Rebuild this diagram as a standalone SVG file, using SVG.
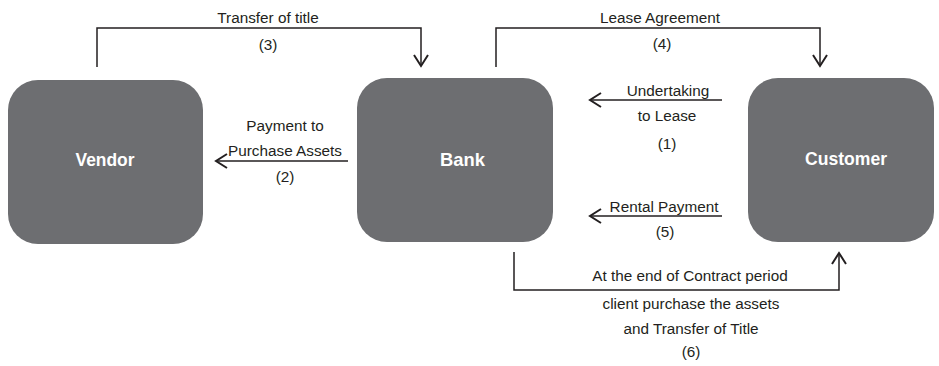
<svg xmlns="http://www.w3.org/2000/svg" width="939" height="366" viewBox="0 0 939 366">
<style>
.box{fill:#6d6e71;}
.lbl{font-family:"Liberation Sans",Arial,sans-serif;font-size:19px;font-weight:bold;fill:#ffffff;text-anchor:middle;}
.t{font-family:"Liberation Sans",Arial,sans-serif;font-size:15.3px;fill:#231f20;text-anchor:middle;}
.c{fill:none;stroke:#231f20;stroke-width:1.5;}
</style>
<defs>
<marker id="arr" markerUnits="userSpaceOnUse" markerWidth="16" markerHeight="18" refX="12" refY="8" orient="auto">
<path d="M1,1 L12,8 L1,15" fill="none" stroke="#231f20" stroke-width="2"/>
</marker>
</defs>
<rect width="939" height="366" fill="#ffffff"/>
<g id="vendor">
<rect class="box" x="8" y="80" width="195" height="164" rx="30" ry="30"/>
<text class="lbl" x="105" y="166" textLength="59" lengthAdjust="spacingAndGlyphs">Vendor</text>
</g>
<g id="bank">
<rect class="box" x="357" y="78" width="196" height="164" rx="30" ry="30"/>
<text class="lbl" x="440" y="166" textLength="45" lengthAdjust="spacingAndGlyphs" style="text-anchor:start">Bank</text>
</g>
<g id="customer">
<rect class="box" x="748" y="78" width="186" height="164" rx="30" ry="30"/>
<text class="lbl" x="846" y="165" textLength="82" lengthAdjust="spacingAndGlyphs">Customer</text>
</g>
<g id="connectors">
<path class="c" d="M97,67 V28 H421 V66" marker-end="url(#arr)"/>
<path class="c" d="M496,67 V28 H820 V66" marker-end="url(#arr)"/>
<path class="c" d="M348,161 H216" marker-end="url(#arr)"/>
<path class="c" d="M722,100 H590" marker-end="url(#arr)"/>
<path class="c" d="M722,216 H590" marker-end="url(#arr)"/>
<path class="c" d="M514,252 V290 H839 V253" marker-end="url(#arr)"/>
</g>
<g id="labels">
<text class="t" x="268" y="23">Transfer of title</text>
<text class="t" x="268" y="50">(3)</text>
<text class="t" x="660" y="23">Lease Agreement</text>
<text class="t" x="662" y="49">(4)</text>
<text class="t" x="285" y="131">Payment to</text>
<text class="t" x="285" y="156">Purchase Assets</text>
<text class="t" x="285" y="182">(2)</text>
<text class="t" x="668" y="96">Undertaking</text>
<text class="t" x="667" y="121">to Lease</text>
<text class="t" x="667" y="149">(1)</text>
<text class="t" x="664" y="212">Rental Payment</text>
<text class="t" x="665" y="237">(5)</text>
<text class="t" x="690" y="281">At the end of Contract period</text>
<text class="t" x="691" y="309">client purchase the assets</text>
<text class="t" x="691" y="334">and Transfer of Title</text>
<text class="t" x="691" y="357">(6)</text>
</g>
</svg>
